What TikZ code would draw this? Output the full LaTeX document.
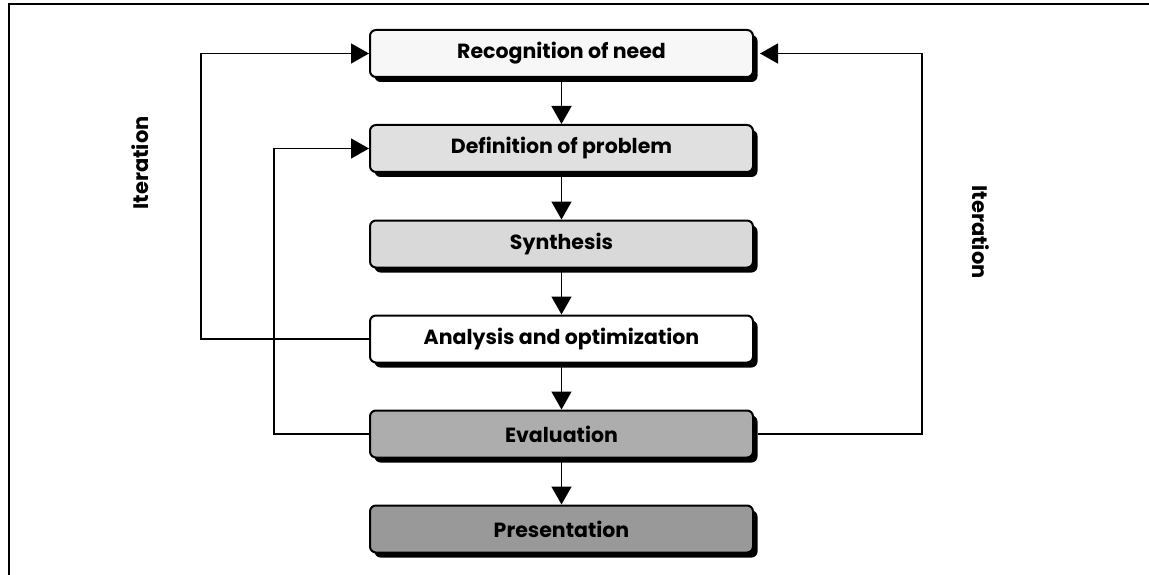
\documentclass[tikz,border=0pt]{standalone}
\usepackage{fontspec}
\setmainfont{Poppins}
\usetikzlibrary{arrows.meta}
\begin{document}
\begin{tikzpicture}[x=1pt,y=-1pt,
  stage/.style={draw=black, line width=2pt, rounded corners=6pt,
    minimum width=383pt, minimum height=47pt, inner sep=0pt,
    font=\fontsize{20.5}{24}\selectfont\bfseries,
    preaction={fill=black, transform canvas={xshift=4.5pt, yshift=-5pt}}},
  flow/.style={line width=1.6pt, -{Triangle[length=18pt, width=20pt]}},
  itlabel/.style={font=\fontsize{21}{24}\selectfont\bfseries, inner sep=0pt}]
  % page extent and frame
  \useasboundingbox (0,0) rectangle (1149,575);
  \coordinate (frameTL) at (9,4);
  \coordinate (frameTR) at (1149,4);
  \coordinate (frameBL) at (9,575);
  \draw[line width=2pt] (frameTR) -- (frameTL) -- (frameBL);

  % process stages
  \node[stage, fill=black!3]  (rec) at (561.5,53.5) {Recognition of need};
  \node[stage, fill=black!12] (def) at (561.5,148.5) {Definition of problem};
  \node[stage, fill=black!15] (syn) at (561.5,244) {Synthesis};
  \node[stage, fill=white]    (ana) at (561.5,339) {Analysis and optimization};
  \node[stage, fill=black!32] (eva) at (561.5,434) {Evaluation};
  \node[stage, fill=black!40] (pre) at (561.5,529) {Presentation};

  % main sequence
  \draw[flow] (rec.south) -- (def.north);
  \draw[flow] (def.south) -- (syn.north);
  \draw[flow] (syn.south) -- (ana.north);
  \draw[flow] (ana.south) -- (eva.north);
  \draw[flow] (eva.south) -- (pre.north);

  % iteration loops
  \coordinate (outerL) at (201,339);
  \coordinate (innerL) at (274,434);
  \coordinate (outerR) at (922,434);
  \coordinate (recR) at ([xshift=6pt]rec.east);
  \draw[flow] (ana.west) -- (outerL) |- (rec.west);
  \draw[flow] (eva.west) -- (innerL) |- (def.west);
  \draw[flow] ([xshift=4pt]eva.east) -- (outerR) |- (recR);

  % labels
  \node[itlabel, rotate=90]  (itL) at (140,163) {Iteration};
  \node[itlabel, rotate=-90] (itR) at (981,232) {Iteration};
\end{tikzpicture}
\end{document}
